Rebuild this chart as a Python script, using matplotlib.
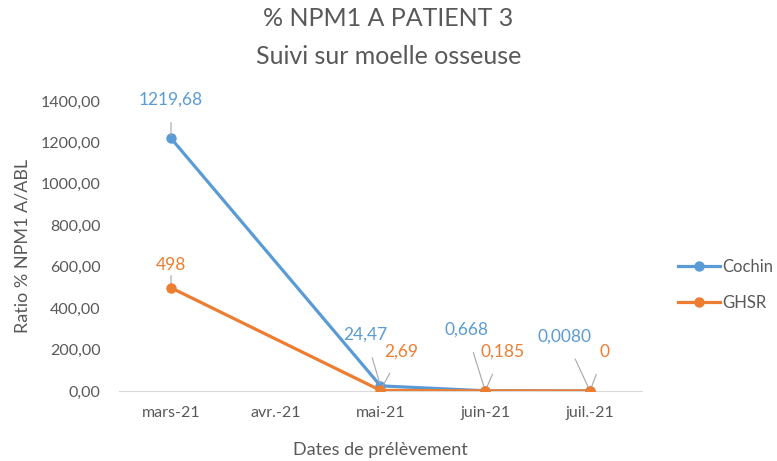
import matplotlib.pyplot as plt
from matplotlib.ticker import FuncFormatter

plt.rcParams['font.family'] = ['Lato', 'DejaVu Sans']

dates = ['mars-21', 'avr.-21', 'mai-21', 'juin-21', 'juil.-21']

# no sample in April: series only have values at these positions
x_pos = [0, 2, 3, 4]
cochin = [1219.68, 24.47, 0.668, 0.0080]
ghsr = [498, 2.69, 0.185, 0]
cochin_dec = [2, 2, 3, 4]
ghsr_dec = [0, 2, 3, 0]

blue = '#5B9BD5'
orange = '#ED7D31'
grey = '#595959'

fig = plt.figure(figsize=(7.77, 4.61), dpi=100)
ax = fig.add_axes([0.1527, 0.152, 0.674, 0.629])

ax.plot(x_pos, cochin, color=blue, lw=2.3, marker='o', ms=6.5, label='Cochin', zorder=3)
ax.plot(x_pos, ghsr, color=orange, lw=2.3, marker='o', ms=6.5, label='GHSR', zorder=4)

ax.set_xlim(-0.5, 4.5)
ax.set_ylim(0, 1400)
ax.set_xticks(range(len(dates)))
ax.set_xticklabels(dates)
ax.set_yticks(range(0, 1401, 200))
ax.yaxis.set_major_formatter(FuncFormatter(lambda v, p: f'{v:.2f}'.replace('.', ',')))
ax.tick_params(length=0, colors=grey, labelsize=11.5)
ax.tick_params(axis='y', pad=13)
ax.tick_params(axis='x', pad=11)

for s in ['top', 'right', 'left']:
    ax.spines[s].set_visible(False)
ax.spines['bottom'].set_color('#D9D9D9')

# data labels with leader lines (offsets in pixels)
cochin_off = [(0, 39), (-15, 51), (-19, 61), (-25, 54)]
ghsr_off = [(0, 23), (21, 39), (17, 39), (15, 39)]

def label(xs, ys, decs, offs, color):
    for x, y, d, o in zip(xs, ys, decs, offs):
        txt = f'{y:.{d}f}'.replace('.', ',')
        ax.annotate(txt, (x, y), xytext=o, textcoords='offset pixels',
                    ha='center', va='center', color=color, fontsize=12.5,
                    arrowprops=dict(arrowstyle='-', color='#A6A6A6', lw=0.8,
                                    shrinkA=9, shrinkB=2))

label(x_pos, cochin, cochin_dec, cochin_off, blue)
label(x_pos, ghsr, ghsr_dec, ghsr_off, orange)

ax.set_xlabel('Dates de prélèvement', color=grey, fontsize=13, labelpad=16)
ax.set_ylabel('Ratio % NPM1 A/ABL', color=grey, fontsize=13)
ax.yaxis.set_label_coords(-0.168, 0.5)

fig.suptitle('% NPM1 A PATIENT 3\nSuivi sur moelle osseuse', color=grey,
             fontsize=18, y=0.985, linespacing=1.8)

ax.legend(loc='center left', bbox_to_anchor=(1.04, 0.365), frameon=False,
          labelcolor=grey, fontsize=12, handlelength=2.5, handletextpad=0.15,
          labelspacing=1.2)

fig.savefig('out.png', dpi=100)
